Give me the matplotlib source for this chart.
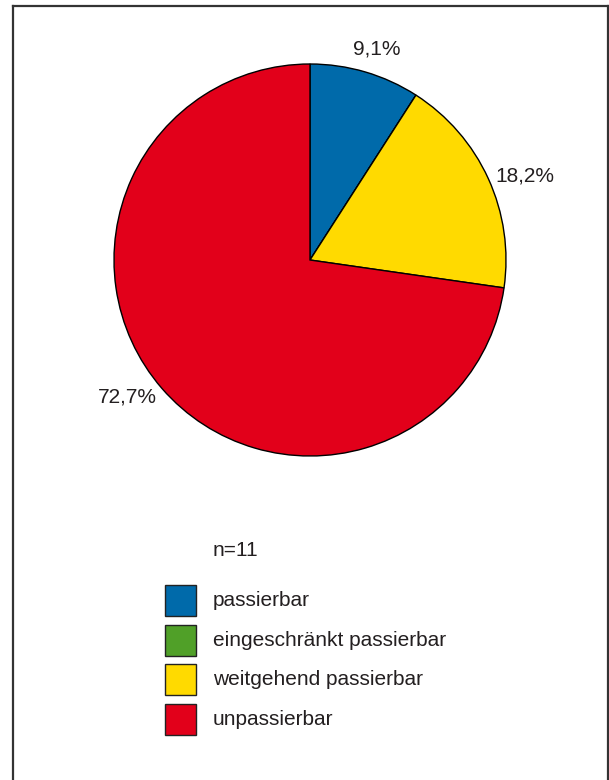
import numpy as np
import matplotlib
matplotlib.use('Agg')
import matplotlib.pyplot as plt
from matplotlib.patches import Rectangle
from matplotlib.lines import Line2D

categories = ['passierbar', 'eingeschränkt passierbar', 'weitgehend passierbar', 'unpassierbar']
counts = [1, 0, 2, 8]
pct_labels = ['9,1%', '', '18,2%', '72,7%']
colors = ['#006AAA', '#50A028', '#FFDA00', '#E2001A']
n_label = 'n=11'

plt.rcParams['font.family'] = ['Liberation Sans', 'DejaVu Sans']
txt_col = '#231F20'

W, H = 609, 780
fig = plt.figure(figsize=(W / 100, H / 100), dpi=100)

def fx(px):
    return px / W

def fy(py):
    return 1 - py / H

# frame (open at bottom)
for xs, ys in [((13, 13), (6, 780)), ((13, 608), (6, 6)), ((608, 608), (6, 780))]:
    fig.add_artist(Line2D([fx(x) for x in xs], [fy(y) for y in ys],
                          color='#333333', lw=1.6))

# pie: centre (310, 260), radius 196 px
ax = fig.add_axes([fx(114), fy(456), 392 / W, 392 / H])
wedges, _ = ax.pie(counts, colors=colors, startangle=90, counterclock=False,
                   radius=1, wedgeprops=dict(edgecolor='black', linewidth=1.0))
ax.set_xlim(-1, 1)
ax.set_ylim(-1, 1)
ax.set_aspect('equal')
ax.axis('off')

# label placement: distance from centre and small angle shift
dists = [1.13, 1.0, 1.178, 1.166]
shifts = [-1.2, 0, -3.2, -4.1]
for w, lab, d, s in zip(wedges, pct_labels, dists, shifts):
    if not lab:
        continue
    ang = np.deg2rad((w.theta1 + w.theta2) / 2 + s)
    ax.text(d * np.cos(ang), d * np.sin(ang), lab, ha='center', va='center',
            fontsize=15, color=txt_col, clip_on=False)

# legend
fig.text(fx(213), fy(550), n_label, ha='left', va='center', fontsize=15, color=txt_col)
for i, (cat, c) in enumerate(zip(categories, colors)):
    top = 585 + i * 39.7
    fig.add_artist(Rectangle((fx(165), fy(top + 31)), 31 / W, 31 / H,
                             facecolor=c, edgecolor='#222222', lw=1.0))
    fig.text(fx(213), fy(top + 15.5), cat, ha='left', va='center',
             fontsize=15, color=txt_col)

fig.savefig('out.png', dpi=100)
